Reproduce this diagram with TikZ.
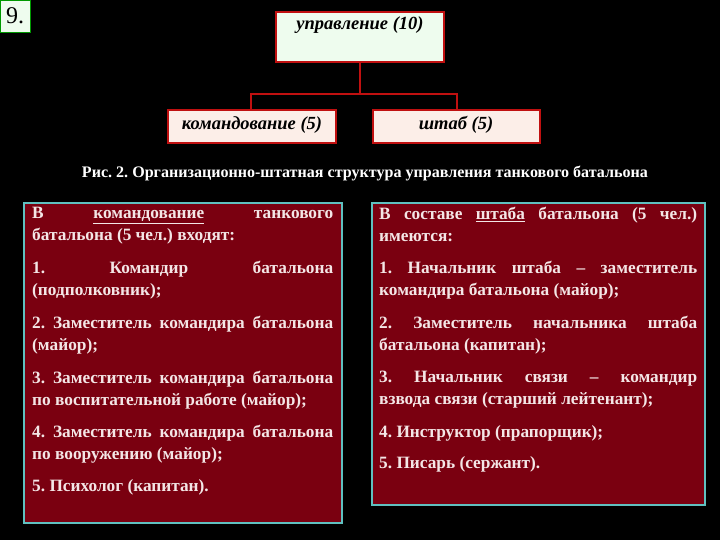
\documentclass[tikz,border=0pt]{standalone}
\usepackage{fontspec}
\setmainfont{Liberation Serif}
\frenchspacing
\definecolor{box}{HTML}{7A0010}
\definecolor{edge}{HTML}{60C0C0}
\definecolor{txt}{HTML}{F4E6E6}
\definecolor{topf}{HTML}{EEFCEE}
\definecolor{subf}{HTML}{FCEEE8}
\definecolor{red1}{HTML}{C01010}
\tikzset{x=1pt,y=-1pt,
 orgbox/.style={draw=red1,line width=1.5pt},
 lab/.style={font=\bfseries\itshape\fontsize{18.5}{20}\selectfont},
 para/.style={anchor=north west,inner sep=0pt,text=txt,font=\bfseries\frenchspacing\fontsize{17.3}{22}\selectfont,align=justify},
 big/.style={draw=edge,line width=1.5pt,fill=box}}
\begin{document}
\begin{tikzpicture}
\fill[black] (0,0) rectangle (720,540);
\useasboundingbox (0,0) rectangle (720,540);
\node[draw=green!60!black,fill=topf,minimum width=30pt,minimum height=32pt,inner sep=0pt,font=\fontsize{24}{26}\selectfont] (nine) at (15,16) {9.};
\filldraw[orgbox,fill=topf] (276,12) rectangle (444,62);
\node[lab] (top) at (360,25) {управление (10)};
\coordinate (tb) at (360,62);
\filldraw[orgbox,fill=subf] (168,110) rectangle (336,143);
\node[lab] (kom) at (252,125) {командование (5)};
\filldraw[orgbox,fill=subf] (373,110) rectangle (540,143);
\node[lab] (sht) at (456,125) {штаб (5)};
\coordinate (kt) at (251,110);
\coordinate (st) at (457,110);
\draw[red1,line width=1.5pt] (tb) -- (360,94) (kt) -- (251,94) -- (457,94) -- (st);
\node[text=white,inner sep=0pt] (cap) at (365,173) {\resizebox{566pt}{!}{\bfseries\fontsize{14}{16}\selectfont Рис. 2. Организационно-штатная структура управления танкового батальона}};
\draw[big] (24,203) rectangle (342,523);
\draw[big] (372,203) rectangle (705,505);
\begin{scope}[every node/.style={para,text width=301pt}]
\node (l1) at (32,207) {В \underline{командование} танкового\linebreak батальона (5 чел.) входят:};
\node (l2) at (32,261) {1. Командир батальона\linebreak (подполковник);};
\node (l3) at (32,316) {2. Заместитель командира батальона\linebreak (майор);};
\node (l4) at (32,371) {3. Заместитель командира батальона\linebreak по воспитательной работе (майор);};
\node (l5) at (32,425) {4. Заместитель командира батальона\linebreak по вооружению (майор);};
\node (l6) at (32,479) {5. Психолог (капитан).};
\end{scope}
\begin{scope}[every node/.style={para,text width=318pt}]
\node (r1) at (379,207) {В составе \underline{штаба} батальона (5 чел.)\linebreak имеются:};
\node (r2) at (379,261) {1. Начальник штаба – заместитель\linebreak командира батальона (майор);};
\node (r3) at (379,316) {2. Заместитель начальника штаба\linebreak батальона (капитан);};
\node (r4) at (379,371) {3. Начальник связи – командир\linebreak взвода связи (старший лейтенант);};
\node (r5) at (379,425) {4. Инструктор (прапорщик);};
\node (r6) at (379,456) {5. Писарь (сержант).};
\end{scope}
\end{tikzpicture}
\end{document}
